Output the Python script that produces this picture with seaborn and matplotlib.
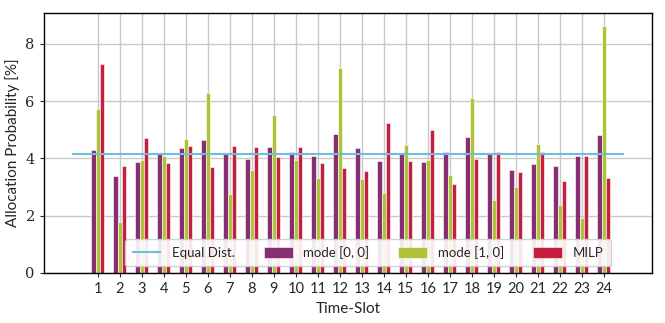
import matplotlib
matplotlib.use("Agg")
import matplotlib.pyplot as plt
import seaborn as sns
import pandas as pd

# time slots 1..24
slots = list(range(1, 25))
mode_00 = [4.31, 3.38, 3.86, 4.14, 4.36, 4.65, 4.14, 3.97, 4.40, 4.24, 4.09, 4.84,
           4.36, 3.91, 4.14, 3.87, 4.21, 4.73, 4.14, 3.58, 3.80, 3.73, 4.07, 4.81]
mode_10 = [5.71, 1.78, 3.94, 4.09, 4.66, 6.27, 2.74, 3.60, 5.51, 3.95, 3.30, 7.16,
           3.27, 2.79, 4.47, 3.94, 3.43, 6.12, 2.53, 3.01, 4.51, 2.37, 1.92, 8.63]
milp = [7.31, 3.72, 4.70, 3.84, 4.43, 3.69, 4.43, 4.40, 4.06, 4.40, 3.84, 3.65,
        3.57, 5.22, 3.91, 5.00, 3.10, 3.98, 4.21, 3.53, 4.21, 3.20, 4.07, 3.31]
equal_dist = 100 / 24
series_names = ["mode [0, 0]", "mode [1, 0]", "MILP"]
colors = ["#882E72", "#AEC33A", "#C61E3F"]

df = pd.DataFrame({
    "slot": slots * 3,
    "value": mode_00 + mode_10 + milp,
    "series": [n for n in series_names for _ in slots],
})

sns.set_style("white")
plt.rcParams["font.family"] = ["Lato", "DejaVu Sans"]

fig, ax = plt.subplots(figsize=(6.65, 3.23), dpi=100)
fig.subplots_adjust(left=0.066, right=0.980, top=0.960, bottom=0.155)

sns.barplot(data=df, x="slot", y="value", hue="series", palette=colors,
            width=0.6, saturation=1, edgecolor="white", linewidth=0.4, ax=ax)
ax.hlines(equal_dist, -1.18, 23.9, color="#6BBFDD", linewidth=1.5, label="Equal Dist.")

# grid after barplot (seaborn switches off the x grid)
ax.set_axisbelow(True)
ax.grid(True, axis="both", color="#c8c8c8", linewidth=1.0)

ax.set_xlim(-2.45, 25.18)
ax.set_ylim(0, 9.08)
ax.set_yticks([0, 2, 4, 6, 8])
for lab in ax.get_yticklabels():
    lab.set_family("DejaVu Serif")
ax.tick_params(axis="both", labelsize=10.5, length=3, direction="out", left=True, bottom=True)
ax.set_xlabel("Time-Slot", fontsize=11)
ax.set_ylabel("Allocation Probability [%]", fontsize=11)
for s in ax.spines.values():
    s.set_color("black")
    s.set_linewidth(1.0)

h, l = ax.get_legend_handles_labels()
order = [l.index("Equal Dist.")] + [l.index(n) for n in series_names]
ax.legend([h[i] for i in order], [l[i] for i in order], ncol=4, loc="lower center",
          bbox_to_anchor=(0.533, 0.0), fontsize=9.5, handlelength=2.2, handleheight=0.85,
          columnspacing=2.2, borderpad=0.55, framealpha=0.9, fancybox=True,
          edgecolor="#cccccc")

fig.savefig("out.png", dpi=100)
